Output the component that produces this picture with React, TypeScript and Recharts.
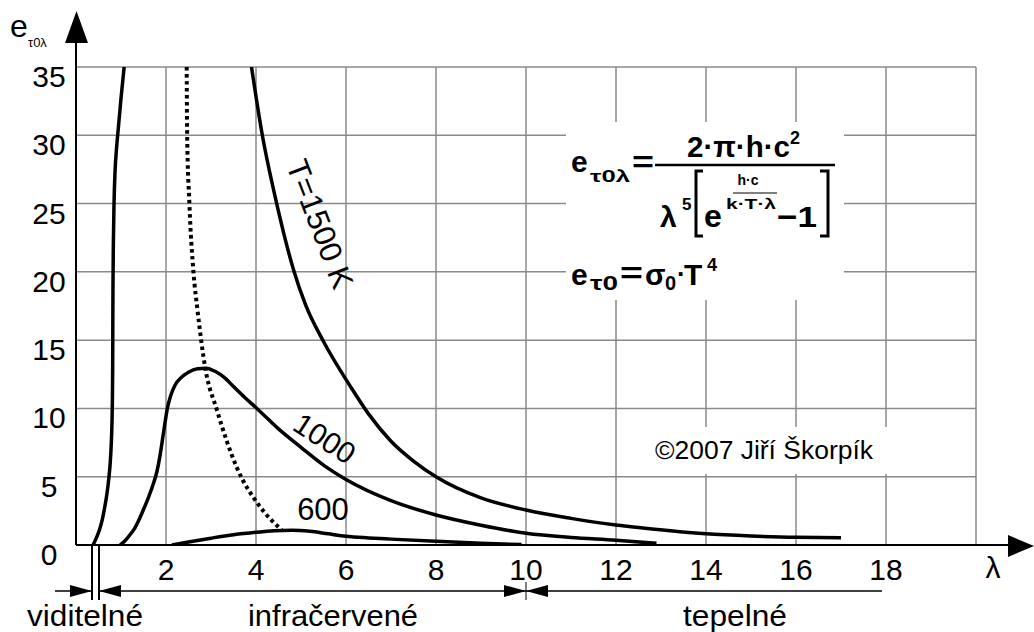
import React from 'react';
import { LineChart, Line, XAxis, YAxis, CartesianGrid } from 'recharts';

const xTicks = [0, 2, 4, 6, 8, 10, 12, 14, 16, 18, 20];
const yTicks = [0, 5, 10, 15, 20, 25, 30, 35];

// T = 1500 K, rising part (left of the top edge)
const lambda1500a = [0.38, 0.45, 0.52, 0.58, 0.64, 0.69, 0.73, 0.76, 0.785, 0.8, 0.81, 0.815, 0.818, 0.822, 0.83, 0.845, 0.87, 0.9, 0.94, 1.0, 1.07];
const e1500a = [0, 0.5, 1.1, 1.8, 2.8, 3.8, 4.9, 6.0, 7.5, 9.0, 11.0, 13.0, 16.0, 19.0, 22.0, 25.0, 27.5, 29.0, 30.5, 32.7, 35];
// T = 1500 K, falling part
const lambda1500b = [3.9, 4.13, 4.46, 4.83, 5.1, 5.5, 6.1, 6.5, 7.0, 7.5, 8.0, 9.0, 10.0, 11.0, 12.0, 12.8, 14.0, 15.0, 16.0, 17.0];
const e1500b = [35, 30.2, 25.0, 20.2, 17.6, 14.9, 11.6, 9.6, 7.6, 6.15, 5.0, 3.45, 2.56, 1.95, 1.46, 1.17, 0.82, 0.66, 0.56, 0.53];
// T = 1000 K
const lambda1000 = [0.98, 1.1, 1.2, 1.3, 1.4, 1.5, 1.6, 1.7, 1.8, 1.87, 1.93, 1.98, 2.03, 2.1, 2.2, 2.35, 2.5, 2.7, 2.89, 3.1, 3.3, 3.5, 3.75, 4.02, 4.5, 5.0, 5.5, 6.0, 7.0, 8.0, 9.0, 10.0, 11.0, 12.0, 12.9];
const e1000 = [0, 0.35, 0.75, 1.2, 1.85, 2.6, 3.4, 4.3, 5.4, 6.6, 7.9, 9.0, 10.0, 10.9, 11.7, 12.3, 12.65, 12.9, 12.95, 12.7, 12.25, 11.6, 10.8, 10.0, 8.5, 7.15, 5.85, 4.8, 3.25, 2.2, 1.45, 0.86, 0.55, 0.35, 0.12];
// T = 600 K
const lambda600 = [2.13, 2.5, 3.0, 3.5, 4.0, 4.4, 4.8, 5.2, 5.6, 6.0, 6.5, 7.0, 8.0, 9.0, 9.9];
const e600 = [0, 0.22, 0.5, 0.75, 0.93, 1.04, 1.08, 1.0, 0.82, 0.64, 0.52, 0.43, 0.27, 0.13, 0.03];
// maxima locus (dotted)
const lambdaMax = [2.46, 2.47, 2.52, 2.61, 2.7, 2.87, 3.13, 3.57, 4.09, 4.57];
const eMax = [35, 30, 25, 20, 17.2, 13.0, 9.9, 5.7, 2.8, 1.1];

const zip = (xs: number[], ys: number[]) => xs.map((x, i) => ({ x, y: ys[i] }));

const FONT = '"Liberation Sans", Arial, sans-serif';

const XTick = (props: any) => {
  const { x, y, payload } = props;
  if (payload.value === 0 || payload.value === 20) return <g />;
  return (
    <text x={x} y={y + 33} textAnchor="middle" fontSize={30} fontFamily={FONT} fill="#000">
      {payload.value}
    </text>
  );
};

const YTick = (props: any) => {
  const { x, y, payload } = props;
  return (
    <text x={x - 25} y={y + 20} textAnchor="middle" fontSize={30} fontFamily={FONT} fill="#000">
      {payload.value}
    </text>
  );
};

export default function App() {
  const lineProps = {
    type: 'monotone' as const,
    dataKey: 'y',
    stroke: '#000',
    strokeWidth: 3.5,
    dot: false,
    activeDot: false,
    isAnimationActive: false,
  };
  return (
    <div style={{ position: 'absolute', left: 0, top: 0, width: 1034, height: 632, background: '#fff' }}>
      <LineChart width={1034} height={632} margin={{ top: 67, right: 58, bottom: 0, left: 0 }}>
        <CartesianGrid stroke="#8a8a8a" strokeWidth={1.5} horizontalValues={yTicks} verticalValues={xTicks} />
        <XAxis
          type="number"
          dataKey="x"
          domain={[0, 20]}
          ticks={xTicks}
          allowDataOverflow
          height={87}
          axisLine={false}
          tickLine={false}
          tickSize={0}
          tick={<XTick />}
          interval={0}
        />
        <YAxis
          type="number"
          domain={[0, 35]}
          ticks={yTicks}
          allowDataOverflow
          width={76}
          axisLine={false}
          tickLine={false}
          tickSize={0}
          tick={<YTick />}
          interval={0}
        />
        <Line {...lineProps} data={zip(lambda1500a, e1500a)} />
        <Line {...lineProps} data={zip(lambda1500b, e1500b)} />
        <Line {...lineProps} data={zip(lambda1000, e1000)} />
        <Line {...lineProps} data={zip(lambda600, e600)} />
        <Line {...lineProps} data={zip(lambdaMax, eMax)} strokeWidth={4} strokeDasharray="3.5 3.5" />
      </LineChart>
      <svg
        width={1034}
        height={632}
        style={{ position: 'absolute', left: 0, top: 0, pointerEvents: 'none' }}
        fontFamily={FONT}
      >
        {/* axes */}
        <line x1={76} y1={545} x2={1010} y2={545} stroke="#000" strokeWidth={2} />
        <polygon points="1008,535 1008,557 1034,546" fill="#000" />
        <line x1={76} y1={545} x2={76} y2={40} stroke="#000" strokeWidth={2} />
        <polygon points="65,43 88,43 76.5,11" fill="#000" />
        <text x={10} y={37} fill="#000">
          <tspan fontSize={32}>e</tspan>
          <tspan x={28} y={47} fontSize={13}>τ0λ</tspan>
        </text>
        <text x={993} y={578} fontSize={30} textAnchor="middle" fill="#000">λ</text>

        {/* formula box */}
        <rect x={566} y={122} width={278} height={178} fill="#fff" />
        <g fontWeight="bold" fill="#000">
          <text x={571} y={172} fontSize={30}>
            e
            <tspan x={590} y={182} fontSize={16} textLength={40} lengthAdjust="spacingAndGlyphs">τ0λ</tspan>
            <tspan x={632} y={172} fontSize={30} textLength={22} lengthAdjust="spacingAndGlyphs">=</tspan>
          </text>
          <line x1={655} y1={165} x2={835} y2={165} stroke="#000" strokeWidth={2.5} />
          <text x={687} y={157} fontSize={30}>
            <tspan textLength={103} lengthAdjust="spacingAndGlyphs">2·π·h·c</tspan>
            <tspan x={790} y={144} fontSize={18}>2</tspan>
          </text>
          <text x={660} y={227} fontSize={30}>
            λ
            <tspan x={682} y={210} fontSize={17}>5</tspan>
          </text>
          <path d="M703,171 L696,171 L696,236 L703,236" stroke="#000" strokeWidth={3} fill="none" />
          <text x={704} y={227} fontSize={32}>e</text>
          <text x={748} y={185} fontSize={14} textAnchor="middle">h·c</text>
          <line x1={733} y1={193} x2={777} y2={193} stroke="#000" strokeWidth={1} />
          <text x={751} y={209} fontSize={14} textAnchor="middle" textLength={50} lengthAdjust="spacingAndGlyphs">k·T·λ</text>
          <text x={777} y={227} fontSize={30} textLength={40} lengthAdjust="spacingAndGlyphs">−1</text>
          <path d="M820,171 L828,171 L828,236 L820,236" stroke="#000" strokeWidth={3} fill="none" />
          <text x={571} y={285} fontSize={30}>
            e
            <tspan x={590} y={290} fontSize={20} textLength={28} lengthAdjust="spacingAndGlyphs">τ0</tspan>
            <tspan x={620} y={283} fontSize={30} textLength={23} lengthAdjust="spacingAndGlyphs">=</tspan>
            <tspan x={645} y={285} fontSize={30}>σ</tspan>
            <tspan x={665} y={290} fontSize={20}>0</tspan>
            <tspan x={677} y={283} fontSize={26}>·</tspan>
            <tspan x={684} y={285} fontSize={30}>T</tspan>
            <tspan x={707} y={271} fontSize={18}>4</tspan>
          </text>
        </g>

        {/* copyright box */}
        <rect x={632} y={427} width={262} height={47} fill="#fff" />
        <text x={764} y={459} fontSize={26} textAnchor="middle" textLength={218} lengthAdjust="spacingAndGlyphs" fill="#000">©2007 Jiří Škorpík</text>

        {/* curve labels */}
        <text x={310} y={228} fontSize={31} textAnchor="middle" fill="#000" transform="rotate(69 310 228)">T=1500 K</text>
        <text x={325} y={449} fontSize={30} textAnchor="middle" fill="#000" transform="rotate(33 325 438)">1000</text>
        <text x={323} y={520} fontSize={31} textAnchor="middle" fill="#000">600</text>

        {/* spectral ranges */}
        <line x1={55} y1={591} x2={92} y2={591} stroke="#000" strokeWidth={1.5} />
        <polygon points="70,585 70,597 92,591" fill="#000" />
        <line x1={92} y1={546} x2={92} y2={600} stroke="#000" strokeWidth={2} />
        <line x1={99} y1={546} x2={99} y2={600} stroke="#000" strokeWidth={2} />
        <polygon points="99,591 121,585 121,597" fill="#000" />
        <line x1={99} y1={591} x2={882} y2={591} stroke="#000" strokeWidth={1.5} />
        <polygon points="504,585 504,597 526,591" fill="#000" />
        <line x1={526} y1={582} x2={526} y2={600} stroke="#000" strokeWidth={1} />
        <polygon points="526,591 548,585 548,597" fill="#000" />
        <text x={85} y={626} fontSize={30} textAnchor="middle" textLength={116} lengthAdjust="spacingAndGlyphs" fill="#000">viditelné</text>
        <text x={333} y={626} fontSize={30} textAnchor="middle" textLength={170} lengthAdjust="spacingAndGlyphs" fill="#000">infračervené</text>
        <text x={735} y={626} fontSize={30} textAnchor="middle" textLength={104} lengthAdjust="spacingAndGlyphs" fill="#000">tepelné</text>
      </svg>
    </div>
  );
}
